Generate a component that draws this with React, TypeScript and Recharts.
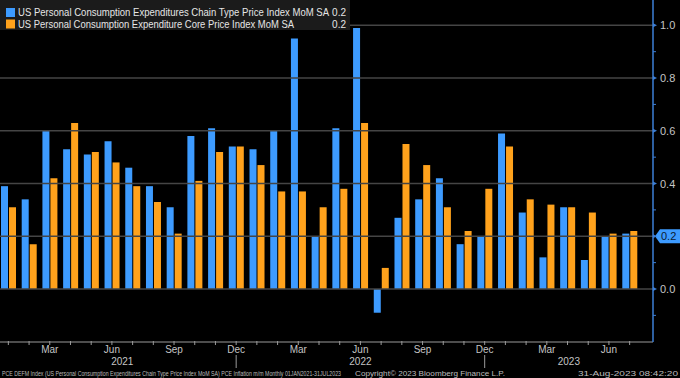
import React from 'react'
import { BarChart, Bar, XAxis, YAxis, ReferenceLine } from 'recharts'

const periods = [
  '2021-01', '2021-02', '2021-03', '2021-04', '2021-05', '2021-06', '2021-07', '2021-08',
  '2021-09', '2021-10', '2021-11', '2021-12', '2022-01', '2022-02', '2022-03', '2022-04',
  '2022-05', '2022-06', '2022-07', '2022-08', '2022-09', '2022-10', '2022-11', '2022-12',
  '2023-01', '2023-02', '2023-03', '2023-04', '2023-05', '2023-06', '2023-07',
]

// PCE chain type price index, MoM %
const pceHeadline = [
  0.39, 0.34, 0.6, 0.53, 0.51, 0.56, 0.46, 0.39, 0.31, 0.58, 0.61, 0.54, 0.53, 0.6, 0.95, 0.2,
  0.61, 0.99, -0.09, 0.27, 0.34, 0.42, 0.17, 0.2, 0.59, 0.29, 0.12, 0.31, 0.11, 0.2, 0.21,
]

// PCE core price index, MoM %
const pceCore = [
  0.31, 0.17, 0.42, 0.63, 0.52, 0.48, 0.39, 0.33, 0.21, 0.41, 0.52, 0.54, 0.47, 0.37, 0.37, 0.31,
  0.38, 0.63, 0.08, 0.55, 0.47, 0.31, 0.22, 0.38, 0.54, 0.34, 0.32, 0.31, 0.29, 0.21, 0.22,
]

const monthNames = ['Jan', 'Feb', 'Mar', 'Apr', 'May', 'Jun', 'Jul', 'Aug', 'Sep', 'Oct', 'Nov', 'Dec']
const labelledMonths = ['Mar', 'Jun', 'Sep', 'Dec']
const yTicks = [-0.1, 0, 0.1, 0.2, 0.3, 0.4, 0.5, 0.6, 0.7, 0.8, 0.9, 1.0]
const gridValues = [0, 0.2, 0.4, 0.6, 0.8, 1.0]

const legendItems = [
  { name: 'US Personal Consumption Expenditures Chain Type Price Index MoM SA', color: '#3d9bff', last: pceHeadline[pceHeadline.length - 1], len: 311 },
  { name: 'US Personal Consumption Expenditure Core Price Index MoM SA', color: '#ffa21c', last: pceCore[pceCore.length - 1], len: 276 },
]

const data = periods.map((p, i) => ({ period: p, headline: pceHeadline[i], core: pceCore[i] }))

const W = 680
const H = 378
const Y_AXIS_W = 27
const X_AXIS_H = 36
const LEFT = -2
const PAD_R = 13
const AXIS_X = W - Y_AXIS_W
const AXIS_Y = H - X_AXIS_H
const STEP = (AXIS_X - LEFT - PAD_R) / periods.length
const TAG_VALUE = Math.round(pceHeadline[pceHeadline.length - 1] * 10) / 10

const FONT = '"Liberation Sans", Arial, sans-serif'
const TEXT = '#c4c4c4'

// squeezed text: horizontal scale so natural and fitted widths agree
function FitText({ x, y, len, size, sx, fill, children }: {
  x: number; y: number; len: number; size: number; sx: number; fill: string; children: string
}) {
  return (
    <g transform={`translate(${x},${y}) scale(${sx},1)`}>
      <text x={0} y={0} fill={fill} fontSize={size} fontFamily={FONT} textLength={len / sx} lengthAdjust="spacingAndGlyphs">
        {children}
      </text>
    </g>
  )
}

// eslint-disable-next-line @typescript-eslint/no-explicit-any
function MonthTick(props: any) {
  const { x, payload, index } = props
  const [yr, mo] = String(payload.value).split('-')
  const name = monthNames[Number(mo) - 1]
  let yearLabel = null
  if (mo === '01') {
    const start = index === 0 ? x : x - STEP
    const end = index + 11 < periods.length ? x + 11 * STEP : AXIS_X
    yearLabel = (
      <text x={(start + end) / 2} y={365} fill={TEXT} fontSize={10} fontFamily={FONT} textAnchor="middle">
        {yr}
      </text>
    )
  }
  return (
    <g>
      <line x1={x} x2={x} y1={AXIS_Y - 1} y2={AXIS_Y + 3} stroke="#9a9a9a" />
      {labelledMonths.includes(name) && (
        <text x={x} y={353} fill={TEXT} fontSize={10} fontFamily={FONT} textAnchor="middle">
          {name}
        </text>
      )}
      {name === 'Dec' && <line x1={x} x2={x} y1={355} y2={368} stroke="#9a9a9a" />}
      {yearLabel}
    </g>
  )
}

// eslint-disable-next-line @typescript-eslint/no-explicit-any
function ValueTick(props: any) {
  const { y, payload } = props
  const v = Number(payload.value)
  const major = Math.round(v * 10) % 2 === 0
  if (!major) {
    return <line x1={AXIS_X} x2={AXIS_X + 3} y1={y} y2={y} stroke="#3d7fd6" />
  }
  return (
    <g>
      <path d={`M${AXIS_X},${y - 2} L${AXIS_X + 4},${y} L${AXIS_X},${y + 2} Z`} fill="#3d7fd6" />
      {Math.abs(v - TAG_VALUE) > 1e-9 && (
        <text x={660} y={y} dy={4} fill={TEXT} fontSize={11} fontFamily={FONT}>
          {v.toFixed(1)}
        </text>
      )}
    </g>
  )
}

// eslint-disable-next-line @typescript-eslint/no-explicit-any
function LastValueTag(props: any) {
  const y = props.viewBox.y
  return (
    <g>
      <path
        d={`M${AXIS_X + 2},${y} L${AXIS_X + 7},${y - 7} L${W},${y - 7} L${W},${y + 7} L${AXIS_X + 7},${y + 7} Z`}
        fill="#3d9bff"
      />
      <text x={661} y={y} dy={4} fill="#0b1a33" fontSize={11} fontFamily={FONT}>
        {TAG_VALUE.toFixed(1)}
      </text>
    </g>
  )
}

export default function App() {
  return (
    <div style={{ position: 'absolute', left: 0, top: 0, width: W, height: H, background: '#000' }}>
      <BarChart
        width={W}
        height={H}
        data={data}
        margin={{ top: 0, right: 0, left: LEFT, bottom: 0 }}
        barSize={7}
        barGap={1}
      >
        {gridValues.map((g) => (
          <ReferenceLine key={g} y={g} stroke="#454545" strokeWidth={1.5} />
        ))}
        <XAxis
          dataKey="period"
          height={X_AXIS_H}
          interval={0}
          padding={{ left: 0, right: PAD_R }}
          axisLine={{ stroke: '#9a9a9a' }}
          tickLine={false}
          tick={<MonthTick />}
        />
        <YAxis
          orientation="right"
          width={Y_AXIS_W}
          domain={[-0.201, 1.096]}
          ticks={yTicks}
          allowDataOverflow
          axisLine={{ stroke: '#3d7fd6', strokeWidth: 1.5 }}
          tickLine={false}
          tick={<ValueTick />}
        />
        <Bar dataKey="headline" fill="#3d9bff" isAnimationActive={false} />
        <Bar dataKey="core" fill="#ffa21c" isAnimationActive={false} />
        <ReferenceLine y={TAG_VALUE} stroke="none" label={<LastValueTag />} />
      </BarChart>
      <svg
        width={W}
        height={H}
        style={{ position: 'absolute', left: 0, top: 0, pointerEvents: 'none' }}
      >
        <rect x={0} y={0} width={350} height={30} fill="#1b1b1b" />
        {legendItems.map((item, i) => (
          <g key={item.name}>
            <rect x={6} y={8 + i * 11.5} width={9} height={9} fill={item.color} />
            <FitText x={18} y={16 + i * 11.5} len={item.len} size={10.5} sx={0.92} fill="#e6e6e6">
              {item.name}
            </FitText>
            <text x={346} y={16 + i * 11.5} fill="#e6e6e6" fontSize={10} fontFamily={FONT} textAnchor="end">
              {item.last.toFixed(1)}
            </text>
          </g>
        ))}
        <FitText x={2} y={376} len={339} size={7.5} sx={0.68} fill="#bdbdbd">
          PCE DEFM Index (US Personal Consumption Expenditures Chain Type Price Index MoM SA) PCE Inflation m/m  Monthly 01JAN2021-31JUL2023
        </FitText>
        <FitText x={355} y={376} len={150} size={7.5} sx={0.78} fill="#bdbdbd">
          Copyright© 2023 Bloomberg Finance L.P.
        </FitText>
        <FitText x={578} y={376} len={100} size={7.5} sx={0.78} fill="#bdbdbd">
          31-Aug-2023 08:42:20
        </FitText>
      </svg>
    </div>
  )
}
